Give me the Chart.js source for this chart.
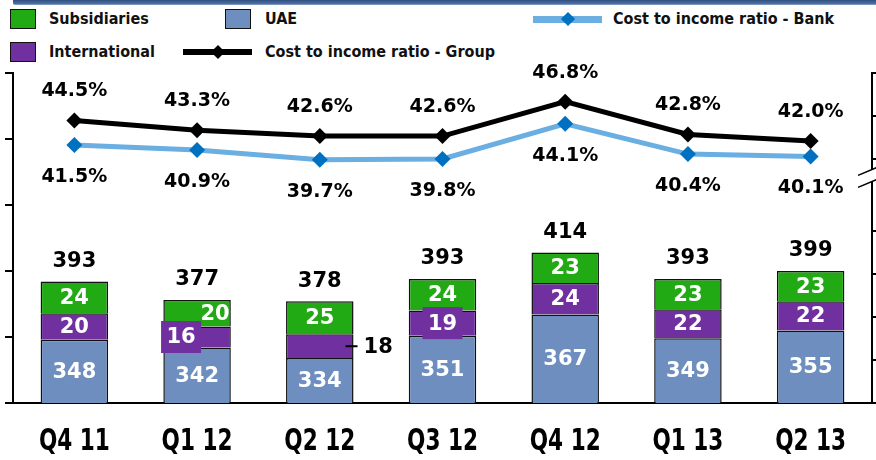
<!DOCTYPE html>
<html>
<head>
<meta charset="utf-8">
<script src="https://cdn.jsdelivr.net/npm/chart.js@4/dist/chart.umd.min.js"></script>
<style>
  html, body { margin: 0; padding: 0; background: #ffffff; overflow: hidden; }
  #wrap { position: relative; width: 876px; height: 460px; overflow: hidden; background: #fff; }
  #banner { position: absolute; left: 13px; top: 0; width: 863px; height: 5px;
            background: linear-gradient(#2f4f80, #4d6e9f 70%, #8fa9cc); border-bottom-left-radius: 2px; }
  canvas { position: absolute; left: 0; top: 0; }
  .leg { position: absolute; font-family: "DejaVu Sans Condensed", "DejaVu Sans", sans-serif;
         font-weight: bold; font-size: 16px; color: #111; line-height: 20px; white-space: nowrap; }
  .box { position: absolute; width: 24px; height: 18px; border: 1.5px solid #111; }
  .lline { position: absolute; height: 6px; }
  .ldia { position: absolute; width: 10px; height: 10px; transform: rotate(45deg); }
</style>
</head>
<body>
<div id="wrap">
  <div id="banner"></div>
  <div id="legend"></div>
  <canvas id="c" width="880" height="460"></canvas>
</div>
<script>
// ---- data ----
const categories = ['Q4 11', 'Q1 12', 'Q2 12', 'Q3 12', 'Q4 12', 'Q1 13', 'Q2 13'];
const uaeValues = [348, 342, 334, 351, 367, 349, 355];
const internationalValues = [20, 16, 18, 19, 24, 22, 22];
const subsidiariesValues = [24, 20, 25, 24, 23, 23, 23];
const totalValues = [393, 377, 378, 393, 414, 393, 399];
const groupRatio = [44.5, 43.3, 42.6, 42.6, 46.8, 42.8, 42.0];
const bankRatio = [41.5, 40.9, 39.7, 39.8, 44.1, 40.4, 40.1];
const leftAxisTicks = [300, 350, 400, 450, 500, 550];
const rightAxisTicks = [10, 15.25, 20.5, 25.75, 31, 39.8, 45.05, 50.3];

const seriesNames = {
  subs: 'Subsidiaries', uae: 'UAE', intl: 'International',
  bank: 'Cost to income ratio - Bank', group: 'Cost to income ratio - Group'
};
const colors = {
  subs: '#22aa14', uae: '#6d8ebf', intl: '#7030a0',
  bankLine: '#6aaee2', bankPoint: '#0070c0', group: '#000000'
};

// ---- legend (html) ----
(function buildLegend() {
  const L = document.getElementById('legend');
  function box(key, left, top) {
    const b = document.createElement('div');
    b.className = 'box'; b.style.left = left + 'px'; b.style.top = top + 'px';
    b.style.background = colors[key]; L.appendChild(b);
  }
  function text(str, left, top) {
    const t = document.createElement('div');
    t.className = 'leg'; t.style.left = left + 'px'; t.style.top = top + 'px';
    t.textContent = str; L.appendChild(t);
  }
  function line(lineColor, pointColor, left, width, cy, h) {
    const l = document.createElement('div');
    l.className = 'lline'; l.style.left = left + 'px'; l.style.width = width + 'px';
    l.style.height = h + 'px';
    l.style.top = (cy - h / 2) + 'px'; l.style.background = lineColor; L.appendChild(l);
    const d = document.createElement('div');
    d.className = 'ldia'; d.style.left = (left + width / 2 - 5) + 'px'; d.style.top = (cy - 5) + 'px';
    d.style.background = pointColor; L.appendChild(d);
  }
  box('subs', 10, 9); text(seriesNames.subs, 49, 9);
  box('uae', 225, 9); text(seriesNames.uae, 265, 9);
  line(colors.bankLine, colors.bankPoint, 533, 69, 19, 7); text(seriesNames.bank, 613, 9);
  box('intl', 10, 42); text(seriesNames.intl, 49, 42);
  line(colors.group, colors.group, 183, 69, 52, 6); text(seriesNames.group, 265, 42);
})();

// ---- labels plugin ----
const NUM_FONT = 'bold 21px "DejaVu Sans", sans-serif';
const PCT_FONT = 'bold 19px "DejaVu Sans", sans-serif';
const CAT_FONT = 'bold 30px "DejaVu Sans Condensed", "DejaVu Sans", sans-serif';
const OUTSIDE_LABEL_CATEGORY = 'Q2 12';
const LABEL_SHIFT = { 'Q1 12': { intl: -16, subs: 18 } };

const labelPlugin = {
  id: 'valueLabels',
  afterDatasetsDraw(chart) {
    const ctx = chart.ctx;
    const area = chart.chartArea;
    const metaGroup = chart.getDatasetMeta(0);
    const metaBank = chart.getDatasetMeta(1);
    const metaUae = chart.getDatasetMeta(2);
    const metaIntl = chart.getDatasetMeta(3);
    const metaSubs = chart.getDatasetMeta(4);
    ctx.save();
    ctx.textAlign = 'center';
    ctx.textBaseline = 'middle';
    categories.forEach((cat, i) => {
      const shift = LABEL_SHIFT[cat] || {};
      // UAE
      const u = metaUae.data[i];
      const uBase = Math.min(u.base, area.bottom);
      ctx.font = NUM_FONT; ctx.fillStyle = '#ffffff';
      ctx.fillText(String(uaeValues[i]), u.x, (u.y + uBase) / 2 + 1);
      // International
      const n = metaIntl.data[i];
      const nMid = (n.y + n.base) / 2;
      if (cat === OUTSIDE_LABEL_CATEGORY) {
        const xr = n.x + n.width / 2;
        ctx.strokeStyle = '#000'; ctx.lineWidth = 2;
        ctx.beginPath(); ctx.moveTo(xr - 8, nMid); ctx.lineTo(xr + 4, nMid); ctx.stroke();
        ctx.fillStyle = '#000'; ctx.textAlign = 'left';
        ctx.fillText(String(internationalValues[i]), xr + 10, nMid + 1);
        ctx.textAlign = 'center';
      } else {
        const nx = n.x + (shift.intl || 0);
        if (n.base - n.y < 25.5) {
          ctx.fillStyle = colors.intl;
          ctx.fillRect(nx - 20, nMid - 16, 40, 32);
        }
        ctx.fillStyle = '#ffffff';
        ctx.fillText(String(internationalValues[i]), nx, nMid + 1);
      }
      // Subsidiaries
      const s = metaSubs.data[i];
      ctx.fillStyle = '#ffffff';
      ctx.fillText(String(subsidiariesValues[i]), s.x + (shift.subs || 0), (s.y + s.base) / 2 + 1);
      // Total
      ctx.fillStyle = '#000000';
      ctx.fillText(String(totalValues[i]), s.x, s.y - 20);
      // Ratios
      ctx.font = PCT_FONT;
      const g = metaGroup.data[i];
      ctx.fillText(groupRatio[i].toFixed(1) + '%', g.x, g.y - 29);
      const b = metaBank.data[i];
      ctx.fillText(bankRatio[i].toFixed(1) + '%', b.x, b.y + 32);
    });
    ctx.restore();
  },
  afterDraw(chart) {
    const ctx = chart.ctx;
    const xs = chart.scales.x;
    // category labels (condensed)
    ctx.save();
    ctx.font = CAT_FONT; ctx.fillStyle = '#000';
    ctx.textAlign = 'center'; ctx.textBaseline = 'middle';
    categories.forEach((cat, i) => {
      ctx.save();
      ctx.translate(xs.getPixelForTick(i), chart.chartArea.bottom + 39);
      ctx.scale(0.8, 1);
      ctx.fillText(cat, 0, 0);
      ctx.restore();
    });
    ctx.restore();
    // axis break on the right axis
    const y2 = chart.scales.y2;
    const xr = chart.chartArea.right;
    const yc = y2.getPixelForValue(37.8);
    ctx.save();
    ctx.fillStyle = '#ffffff';
    ctx.beginPath();
    ctx.moveTo(xr - 14, yc); ctx.lineTo(xr + 6, yc - 8.4);
    ctx.lineTo(xr + 6, yc + 3.6); ctx.lineTo(xr - 14, yc + 12);
    ctx.closePath(); ctx.fill();
    ctx.strokeStyle = '#000'; ctx.lineWidth = 1.5;
    ctx.beginPath();
    ctx.moveTo(xr - 14, yc); ctx.lineTo(xr + 6, yc - 8.4);
    ctx.moveTo(xr - 14, yc + 12); ctx.lineTo(xr + 6, yc + 3.6);
    ctx.stroke();
    ctx.restore();
  }
};

new Chart(document.getElementById('c'), {
  data: {
    labels: categories,
    datasets: [
      { type: 'line', label: seriesNames.group, data: groupRatio, yAxisID: 'y2',
        borderColor: colors.group, borderWidth: 5, pointStyle: 'rectRot', pointRadius: 8,
        pointBackgroundColor: colors.group, pointBorderWidth: 0, tension: 0 },
      { type: 'line', label: seriesNames.bank, data: bankRatio, yAxisID: 'y2',
        borderColor: colors.bankLine, borderWidth: 5, pointStyle: 'rectRot', pointRadius: 8,
        pointBackgroundColor: colors.bankPoint, pointBorderWidth: 0, tension: 0 },
      { type: 'bar', label: seriesNames.uae, data: uaeValues, yAxisID: 'y',
        backgroundColor: colors.uae, borderColor: '#111', borderWidth: 1.5,
        barPercentage: 0.55, categoryPercentage: 1 },
      { type: 'bar', label: seriesNames.intl, data: internationalValues, yAxisID: 'y',
        backgroundColor: colors.intl, borderColor: '#111', borderWidth: 1.5,
        barPercentage: 0.55, categoryPercentage: 1 },
      { type: 'bar', label: seriesNames.subs, data: subsidiariesValues, yAxisID: 'y',
        backgroundColor: colors.subs, borderColor: '#111', borderWidth: 1.5,
        barPercentage: 0.55, categoryPercentage: 1 }
    ]
  },
  options: {
    responsive: false,
    animation: false,
    devicePixelRatio: 1,
    layout: { padding: { left: 5, right: 0, top: 73, bottom: 57 } },
    plugins: { legend: { display: false }, tooltip: { enabled: false } },
    scales: {
      x: {
        stacked: true,
        offset: true,
        grid: { display: false, drawTicks: false },
        border: { display: true, color: '#000', width: 2 },
        ticks: { display: false }
      },
      y: {
        stacked: true,
        position: 'left',
        min: 300, max: 550,
        afterBuildTicks(scale) { scale.ticks = leftAxisTicks.map(v => ({ value: v })); },
        ticks: { display: false },
        grid: { drawOnChartArea: false, drawTicks: true, tickLength: 8, color: '#000', lineWidth: 2 },
        border: { display: true, color: '#000', width: 2 }
      },
      y2: {
        position: 'right',
        min: 10, max: 50.3,
        afterBuildTicks(scale) { scale.ticks = rightAxisTicks.map(v => ({ value: v })); },
        ticks: { display: false },
        grid: { drawOnChartArea: false, drawTicks: true, tickLength: 5, color: '#000', lineWidth: 2 },
        border: { display: true, color: '#000', width: 2 }
      }
    }
  },
  plugins: [labelPlugin]
});
</script>
</body>
</html>
